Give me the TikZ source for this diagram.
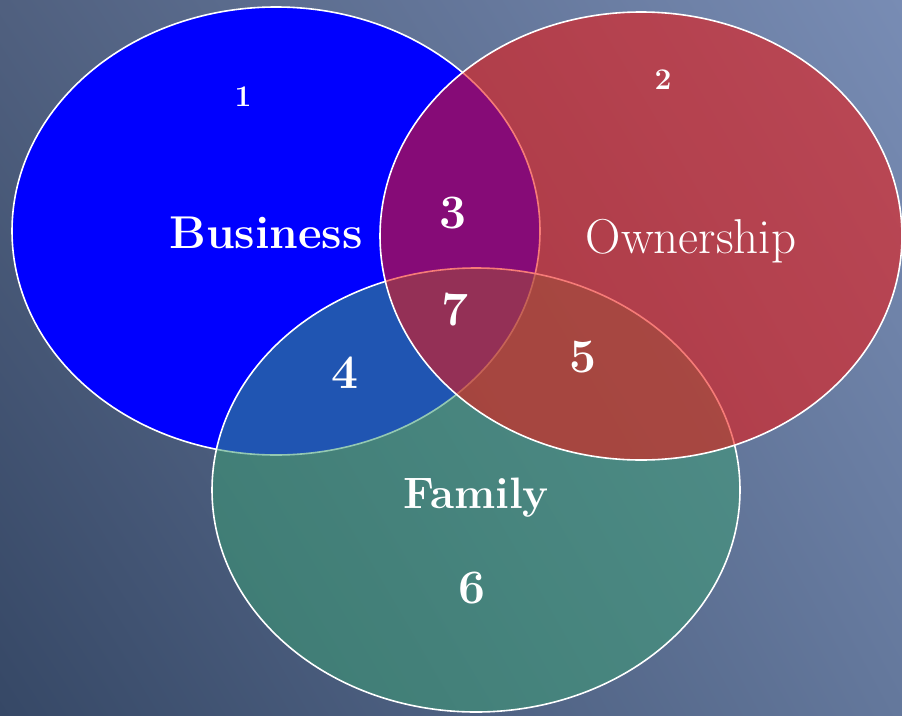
\documentclass[tikz,border=0pt]{standalone}
\usepackage{tikz}
\usetikzlibrary{positioning,shadings}
\definecolor{bgul}{RGB}{80,96,127}
\definecolor{bgur}{RGB}{120,140,180}
\definecolor{bgll}{RGB}{54,72,102}
\definecolor{bglr}{RGB}{100,120,156}
\definecolor{businessblue}{RGB}{0,0,255}
\definecolor{ownershipred}{RGB}{239,20,14}
\definecolor{familygreen}{RGB}{60,156,116}

\begin{document}
\begin{tikzpicture}[x=1pt,y=-1pt,
  setline/.style={draw=white,line width=1.6pt},
  numlabel/.style={text=white,font=\fontsize{48}{52}\selectfont\bfseries},
  smallnum/.style={text=white,font=\fontsize{30}{34}\selectfont\bfseries},
  setlabel/.style={text=white,anchor=base}]
  \useasboundingbox (0,0) rectangle (902,715);
  \shade[upper left=bgul,upper right=bgur,lower left=bgll,lower right=bglr] (0,0) rectangle (902,715);
  % the three sets
  \fill[businessblue] (276,231) ellipse [x radius=264,y radius=224];
  \draw[setline] (276,231) ellipse [x radius=264,y radius=224];
  \fill[familygreen,opacity=0.55] (476,490) ellipse [x radius=264,y radius=222];
  \draw[setline] (476,490) ellipse [x radius=264,y radius=222];
  \fill[ownershipred,opacity=0.56] (641,236) ellipse [x radius=261,y radius=224];
  \draw[setline] (641,236) ellipse [x radius=261,y radius=224];
  % labels
  \node[setlabel,font=\fontsize{46}{50}\selectfont\bfseries] (business) at (266,248) {Business};
  \node[setlabel,font=\fontsize{49}{53}\selectfont] (ownership) at (691,253) {Ownership};
  \node[setlabel,font=\fontsize{44}{48}\selectfont\bfseries] (family) at (476,508) {Family};
  \node[smallnum] (num1) at (243,97) {1};
  \node[smallnum] (num2) at (663,80) {2};
  \node[numlabel] (num3) at (453,213) {3};
  \node[numlabel] (num4) at (345,373) {4};
  \node[numlabel] (num5) at (583,357) {5};
  \node[numlabel] (num6) at (472,588) {6};
  \node[numlabel] (num7) at (455,310) {7};
\end{tikzpicture}
\end{document}
